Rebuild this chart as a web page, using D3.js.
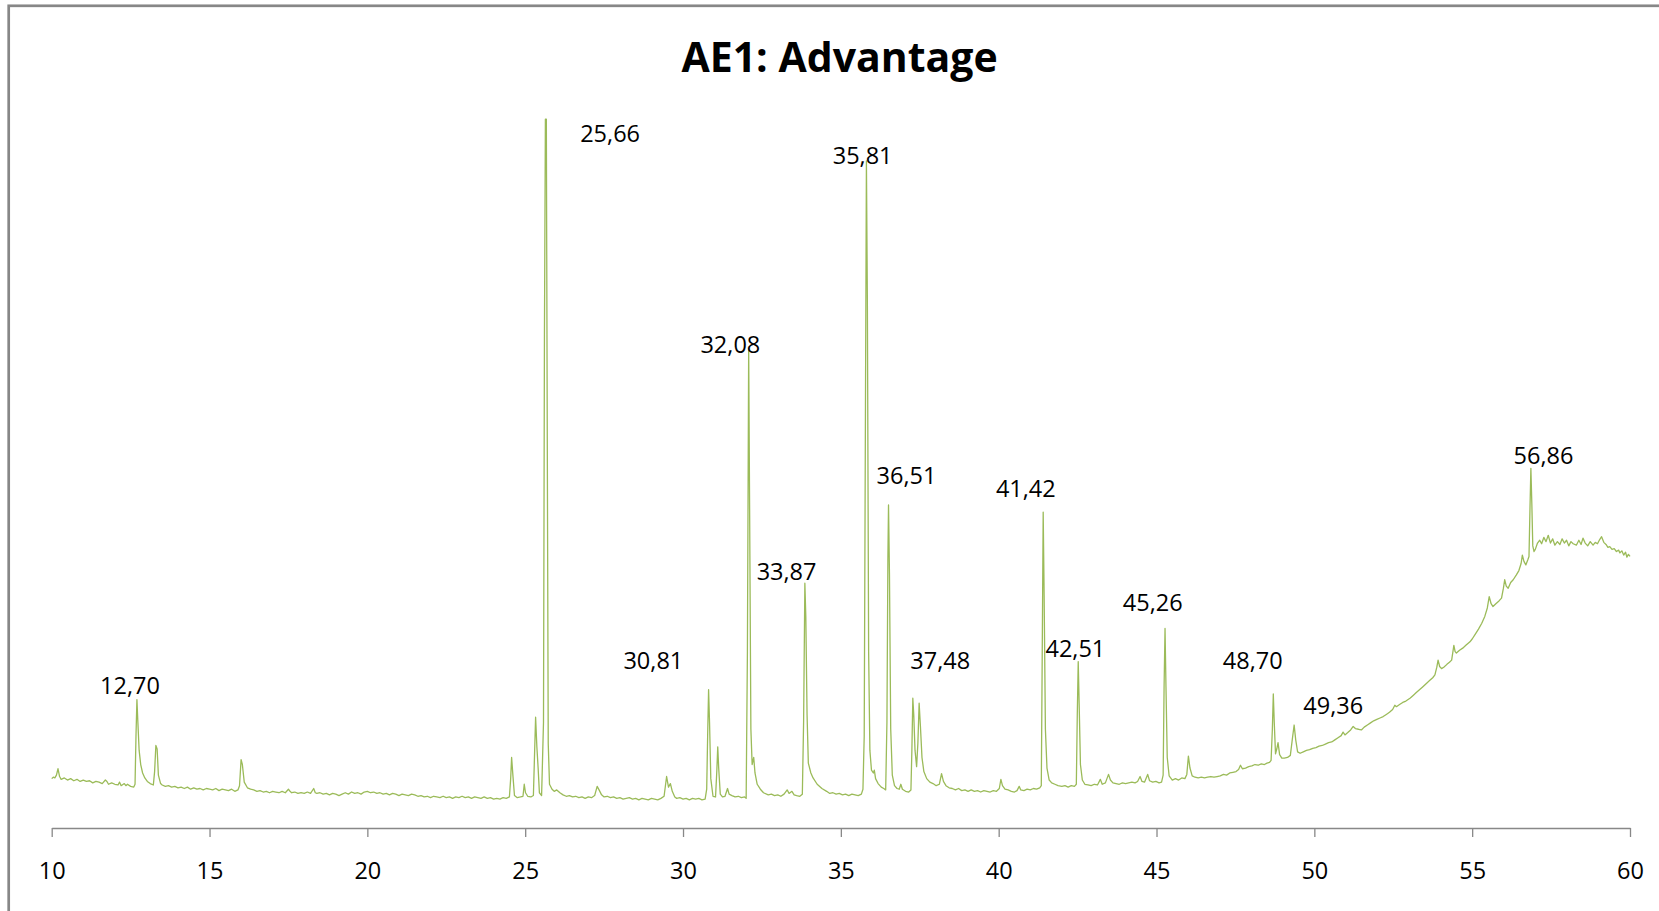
<!DOCTYPE html>
<html><head><meta charset="utf-8">
<script src="https://cdn.jsdelivr.net/npm/d3@7"></script>
<style>body{margin:0;background:#fff;} svg{display:block;}</style>
</head><body><svg id="chart" width="1659" height="911"></svg>
<script>
const title = "AE1: Advantage";
const xTicks = [10, 15, 20, 25, 30, 35, 40, 45, 50, 55, 60];

// [2theta, intensity]
const pattern = [
[10.00,70],[10.05,72],[10.10,71],[10.15,75],[10.20,84],[10.25,73],[10.30,69],[10.40,71],[10.50,68],[10.60,70],[10.70,67],[10.80,69],[10.90,66],[11.00,68],[11.10,66],[11.20,67],[11.30,64],[11.40,66],[11.50,65],[11.60,63],[11.70,68],[11.75,66],[11.80,62],[11.90,64],[12.00,62],[12.10,61],[12.15,65],[12.20,60],[12.30,63],[12.35,60],[12.40,62],[12.50,59],[12.60,58],[12.64,62],[12.67,130],[12.70,182],[12.73,150],[12.77,110],[12.82,90],[12.88,78],[12.95,71],[13.03,66],[13.12,63],[13.22,61],[13.26,80],[13.30,117],[13.34,112],[13.38,75],[13.45,63],[13.50,61],[13.60,59],[13.70,60],[13.80,58],[13.90,59],[14.00,57],[14.10,58],[14.20,56],[14.30,58],[14.40,55],[14.50,57],[14.60,55],[14.70,56],[14.80,54],[14.90,56],[15.00,55],[15.10,54],[15.20,56],[15.30,53],[15.40,55],[15.50,54],[15.60,53],[15.70,55],[15.80,52],[15.90,54],[15.95,60],[16.00,97],[16.04,90],[16.10,65],[16.20,57],[16.30,55],[16.40,54],[16.50,52],[16.60,53],[16.70,51],[16.80,52],[16.90,50],[17.00,52],[17.10,51],[17.20,50],[17.30,52],[17.40,50],[17.50,55],[17.55,52],[17.60,50],[17.70,51],[17.80,49],[17.90,50],[18.00,49],[18.10,51],[18.20,49],[18.30,56],[18.35,50],[18.40,49],[18.50,50],[18.60,48],[18.70,49],[18.80,47],[18.90,49],[19.00,48],[19.10,46],[19.20,48],[19.30,50],[19.40,48],[19.50,51],[19.60,49],[19.70,50],[19.80,48],[19.90,51],[20.00,52],[20.10,50],[20.20,51],[20.30,49],[20.40,50],[20.50,48],[20.60,49],[20.70,47],[20.80,49],[20.90,48],[21.00,46],[21.10,48],[21.20,47],[21.30,46],[21.40,48],[21.50,47],[21.60,45],[21.70,46],[21.80,44],[21.90,45],[22.00,43],[22.10,45],[22.20,44],[22.30,43],[22.40,45],[22.50,43],[22.60,44],[22.70,42],[22.80,44],[22.90,43],[23.00,45],[23.10,43],[23.20,44],[23.30,42],[23.40,44],[23.50,43],[23.60,42],[23.70,44],[23.80,42],[23.90,43],[24.00,41],[24.10,42],[24.20,41],[24.30,43],[24.40,42],[24.50,44],[24.54,70],[24.57,100],[24.61,75],[24.66,46],[24.75,43],[24.85,44],[24.93,45],[24.97,62],[25.01,50],[25.08,45],[25.18,44],[25.26,46],[25.30,110],[25.33,157],[25.37,115],[25.41,85],[25.45,50],[25.52,46],[25.58,150],[25.61,700],[25.64,1005],[25.67,1005],[25.70,550],[25.73,120],[25.77,62],[25.85,55],[25.92,52],[26.00,54],[26.10,50],[26.20,47],[26.30,45],[26.40,46],[26.50,44],[26.60,45],[26.70,43],[26.80,44],[26.90,42],[27.00,44],[27.10,43],[27.20,46],[27.28,59],[27.34,54],[27.42,47],[27.50,44],
[27.60,45],[27.70,43],[27.80,44],[27.90,42],[28.00,43],[28.10,41],[28.20,42],[28.30,43],[28.40,41],[28.50,42],[28.60,40],[28.70,42],[28.80,41],[28.90,40],[29.00,42],[29.10,41],[29.20,40],[29.30,42],[29.40,45],[29.48,73],[29.54,58],[29.60,63],[29.66,52],[29.74,44],[29.80,42],[29.90,43],[30.00,41],[30.10,42],[30.20,40],[30.30,42],[30.40,41],[30.50,42],[30.60,40],[30.70,41],[30.75,55],[30.78,130],[30.81,196],[30.84,150],[30.88,70],[30.95,45],[31.03,44],[31.07,80],[31.10,115],[31.13,85],[31.18,48],[31.25,44],[31.33,45],[31.41,56],[31.46,48],[31.55,46],[31.65,44],[31.75,45],[31.85,43],[31.95,44],[32.00,42],[32.04,250],[32.08,680],[32.11,450],[32.15,140],[32.19,90],[32.24,100],[32.28,78],[32.35,62],[32.45,55],[32.55,50],[32.70,47],[32.80,48],[32.90,46],[33.00,47],[33.10,45],[33.20,48],[33.30,54],[33.36,49],[33.45,52],[33.52,47],[33.60,46],[33.70,45],[33.78,48],[33.82,150],[33.86,347],[33.89,300],[33.93,160],[33.97,92],[34.05,78],[34.12,71],[34.25,62],[34.40,56],[34.55,52],[34.65,49],[34.75,50],[34.85,48],[34.95,49],[35.05,47],[35.15,48],[35.25,46],[35.35,48],[35.45,47],[35.55,46],[35.65,48],[35.70,55],[35.74,130],[35.78,600],[35.81,946],[35.84,750],[35.88,250],[35.92,110],[35.97,82],[36.03,78],[36.06,82],[36.10,70],[36.18,63],[36.28,58],[36.36,56],[36.42,54],[36.46,150],[36.49,380],[36.51,458],[36.54,360],[36.58,140],[36.63,75],[36.70,60],[36.78,56],[36.85,55],[36.90,62],[36.95,55],[37.05,52],[37.15,51],[37.22,54],[37.25,110],[37.28,184],[37.31,160],[37.35,110],[37.40,87],[37.44,120],[37.48,177],[37.52,145],[37.57,100],[37.63,80],[37.72,70],[37.82,65],[37.92,63],[38.02,60],[38.12,62],[38.19,77],[38.25,66],[38.33,60],[38.43,57],[38.53,56],[38.63,54],[38.73,56],[38.83,53],[38.93,54],[39.03,52],[39.13,54],[39.23,52],[39.33,53],[39.43,51],[39.53,53],[39.63,52],[39.73,51],[39.83,53],[39.93,52],[40.02,56],[40.07,69],[40.12,60],[40.20,55],[40.30,54],[40.40,52],[40.50,51],[40.58,53],[40.65,59],[40.70,54],[40.80,53],[40.90,55],[41.00,54],[41.10,56],[41.20,55],[41.30,57],[41.35,60],[41.38,250],[41.41,448],[41.44,330],[41.48,140],[41.53,85],[41.60,68],[41.68,64],[41.78,62],[41.88,60],[42.00,59],[42.10,60],[42.20,58],[42.30,60],[42.40,59],[42.46,62],[42.49,160],[42.52,236],[42.55,175],[42.59,90],[42.65,68],[42.73,62],[42.83,61],[42.93,60],[43.03,62],[43.13,61],[43.22,69],[43.28,62],[43.38,64],[43.48,76],[43.54,68],[43.62,64],[43.72,63],[43.82,62],[43.92,64],[44.02,63],[44.12,64],[44.22,65],[44.32,64],[44.40,66],[44.48,73],[44.54,66],[44.62,65],[44.72,76],[44.78,67],[44.88,65],[44.98,66],[45.08,64],[45.16,65],[45.21,75],[45.24,200],[45.27,283],[45.30,200],[45.34,100],[45.40,74],[45.50,68],[45.60,70],[45.70,68],[45.80,71],[45.90,70],[45.96,76],[46.01,102],[46.06,85],[46.13,74],[46.22,72],[46.32,71],[46.42,72],[46.52,71],[46.62,72],[46.72,73],[46.82,72],[46.92,73],[47.02,74],[47.12,76],[47.22,75],[47.32,78],[47.42,79],[47.52,80],[47.60,83],[47.66,89],[47.72,84],[47.82,85],[47.92,87],[48.02,88],[48.12,90],[48.22,89],[48.32,91],[48.42,90],[48.50,92],[48.58,93],[48.63,96],[48.67,140],[48.70,190],[48.73,150],[48.77,105],[48.81,112],[48.85,121],[48.90,104],[48.97,99],[49.05,99],[49.15,100],[49.24,103],[49.30,125],[49.36,146],[49.41,125],[49.47,108],
[49.55,106],[49.65,108],[49.75,110],[49.85,111],[49.95,113],[50.05,114],[50.15,116],[50.25,117],[50.35,119],[50.45,121],[50.55,122],[50.65,125],[50.75,128],[50.85,131],[50.91,136],[50.97,132],[51.05,135],[51.15,139],[51.23,144],[51.30,141],[51.40,140],[51.49,139],[51.58,143],[51.68,146],[51.78,149],[51.88,152],[51.98,154],[52.08,156],[52.18,158],[52.28,161],[52.38,164],[52.48,168],[52.55,174],[52.60,172],[52.70,175],[52.80,178],[52.90,180],[53.03,184],[53.13,188],[53.23,192],[53.33,196],[53.43,200],[53.55,205],[53.65,209],[53.75,213],[53.82,217],[53.88,228],[53.92,238],[53.97,229],[54.03,226],[54.10,228],[54.20,232],[54.28,235],[54.35,238],[54.42,259],[54.46,250],[54.50,248],[54.60,252],[54.70,255],[54.80,259],[54.93,264],[55.00,268],[55.10,275],[55.20,282],[55.30,290],[55.40,300],[55.48,312],[55.54,328],[55.60,318],[55.66,314],[55.75,318],[55.85,322],[55.93,326],[55.99,340],[56.03,352],[56.08,343],[56.14,340],[56.22,348],[56.30,352],[56.40,359],[56.48,365],[56.55,375],[56.59,387],[56.64,378],[56.70,373],[56.76,380],[56.80,385],[56.83,450],[56.86,510],[56.89,460],[56.92,400],[56.96,392],[57.00,395],[57.07,404],[57.14,408],[57.20,403],[57.27,412],[57.34,406],[57.41,415],[57.48,404],[57.55,410],[57.62,401],[57.70,406],[57.78,402],[57.85,410],[57.92,404],[57.99,408],[58.06,400],[58.13,406],[58.20,403],[58.30,401],[58.38,408],[58.45,402],[58.51,411],[58.58,404],[58.66,400],[58.74,406],[58.83,401],[58.90,405],[58.97,403],[59.04,409],[59.10,413],[59.17,405],[59.24,402],[59.30,398],[59.36,399],[59.43,395],[59.50,396],[59.57,392],[59.64,394],[59.68,390],[59.74,393],[59.80,387],[59.86,391],[59.90,384],[59.95,388],[60.00,385]
];

const peakLabels = ["12,70","25,66","35,81","32,08","36,51","41,42","33,87","45,26","30,81","37,48","42,51","48,70","49,36","56,86"];
const labelTheta = [12.48, 27.69, 35.69, 31.50, 37.08, 40.86, 33.28, 44.88, 29.06, 38.15, 42.43, 48.05, 50.60, 57.26];
const labelIntensity = [202, 984, 954, 686, 500, 481, 363, 319, 238, 238, 254, 238, 174, 528];

const W = 1659, H = 911;
const svg = d3.select("#chart");
svg.append("rect").attr("width", W).attr("height", H).attr("fill", "#fff");
svg.append("rect").attr("x", 8.7).attr("y", 5.8).attr("width", 1720).attr("height", 1000)
  .attr("fill", "none").attr("stroke", "#878787").attr("stroke-width", 2.7);

const x = d3.scaleLinear().domain([10, 60]).range([51.7, 1630]);
const y = d3.scaleLinear().domain([0, 1000]).range([828, 122.7]);

svg.append("text").attr("x", 839.5).attr("y", 72).attr("text-anchor", "middle")
  .attr("font-family", "'Open Sans', sans-serif").attr("font-weight", "bold")
  .attr("font-size", 41).attr("fill", "#000").text(title);

const axis = d3.axisBottom(x).tickValues(xTicks).tickSize(9).tickSizeOuter(0).tickFormat(d3.format("d"));
const gx = svg.append("g").attr("transform", `translate(0,${y(0)})`).call(axis);
gx.select(".domain").attr("stroke", "#888").attr("stroke-width", 1.3);
gx.selectAll(".tick line").attr("stroke", "#888").attr("stroke-width", 1.3);
gx.selectAll(".tick text").attr("y", 42.7).attr("dy", "0.36em")
  .attr("font-family", "'Open Sans', sans-serif").attr("font-size", 23.5).attr("fill", "#000");

const line = d3.line().x(d => x(d[0])).y(d => y(d[1]));
svg.append("path").datum(pattern).attr("d", line).attr("fill", "none")
  .attr("stroke", "#9bbb59").attr("stroke-width", 1.3).attr("stroke-linejoin", "round");

svg.append("g").selectAll("text").data(peakLabels).join("text")
  .attr("x", (d, i) => x(labelTheta[i])).attr("y", (d, i) => y(labelIntensity[i]))
  .attr("dy", "0.36em").attr("text-anchor", "middle")
  .attr("font-family", "'Open Sans', sans-serif").attr("font-size", 23.5).attr("fill", "#000")
  .text(d => d);
</script></body></html>
